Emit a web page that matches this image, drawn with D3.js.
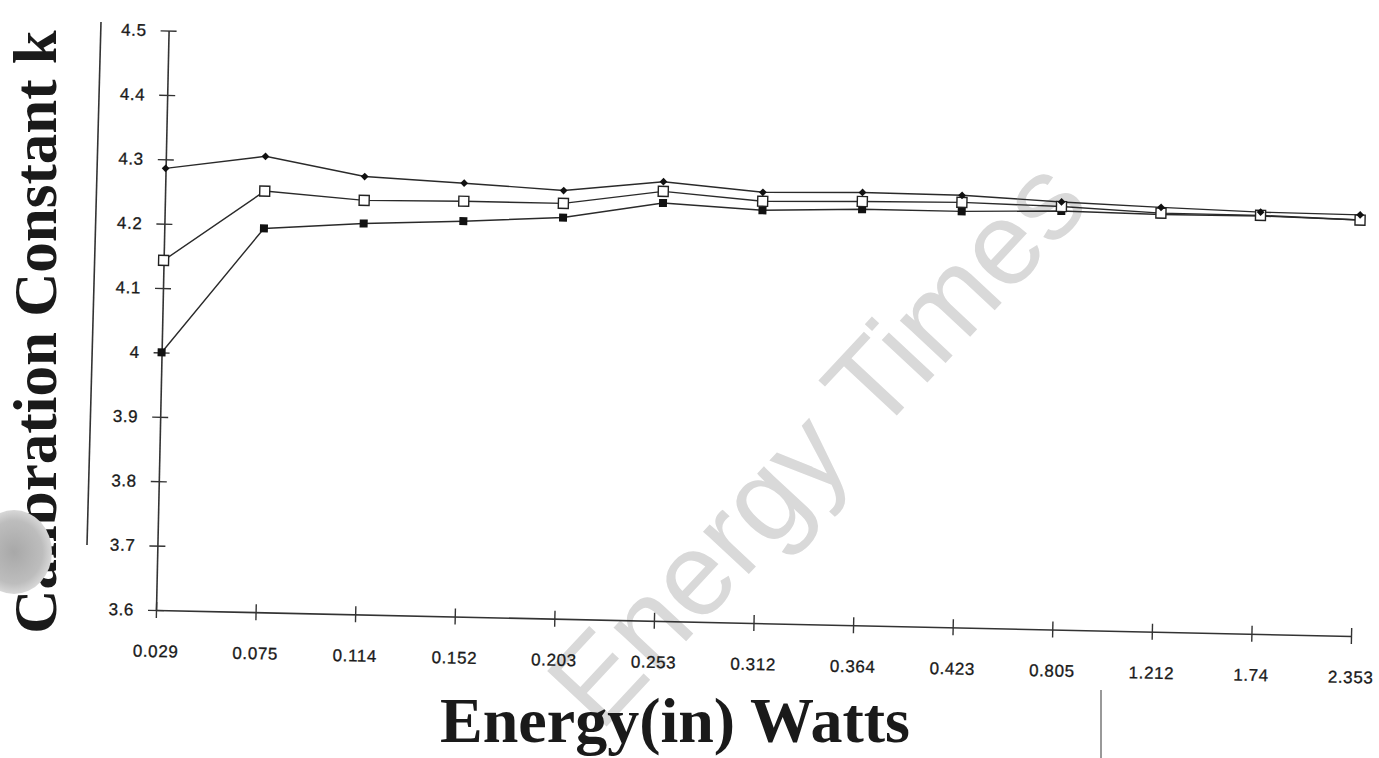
<!DOCTYPE html>
<html>
<head>
<meta charset="utf-8">
<script src="https://cdn.jsdelivr.net/npm/d3@7/dist/d3.min.js"></script>
<style>
  html, body { margin: 0; padding: 0; background: #ffffff; }
  svg { display: block; }
</style>
</head>
<body>
<script>
// ---- data ----
const categories = ["0.029","0.075","0.114","0.152","0.203","0.253","0.312","0.364","0.423","0.805","1.212","1.74","2.353"];
const seriesDiamond = [4.286, 4.308, 4.280, 4.273, 4.265, 4.282, 4.269, 4.272, 4.271, 4.264, 4.259, 4.255, 4.254];
const seriesOpenSquare = [4.143, 4.254, 4.243, 4.245, 4.245, 4.267, 4.255, 4.258, 4.260, 4.257, 4.250, 4.250, 4.246];
const seriesFilledSquare = [4.000, 4.196, 4.207, 4.214, 4.223, 4.249, 4.241, 4.246, 4.246, 4.250, 4.248, 4.249, 4.246];
const yTickValues = [3.6, 3.7, 3.8, 3.9, 4.0, 4.1, 4.2, 4.3, 4.4, 4.5];
const yTickLabels = ["3.6", "3.7", "3.8", "3.9", "4", "4.1", "4.2", "4.3", "4.4", "4.5"];
const xTitle = "Energy(in) Watts";
const yTitle = "Calibration Constant k";
const watermark = "Energy Times";

// ---- layout ----
const W = 1379, H = 758;
const origin = [156, 610];
const tilt = 1.246; // the scanned page is slightly rotated
const plotW = 1195.3, plotH = 579.6;

const svg = d3.select("body").append("svg")
  .attr("width", W).attr("height", H)
  .attr("viewBox", `0 0 ${W} ${H}`);

svg.append("rect").attr("width", W).attr("height", H).attr("fill", "#ffffff");

// watermark
svg.append("text")
  .attr("transform", "translate(1092,206) rotate(-47)")
  .attr("text-anchor", "end")
  .attr("font-family", "Liberation Sans, Arial, sans-serif")
  .attr("font-size", 118)
  .attr("fill", "#d9d9d9")
  .text(watermark);

const g = svg.append("g")
  .attr("transform", `translate(${origin[0]},${origin[1]}) rotate(${tilt})`);

const x = d3.scalePoint().domain(categories).range([0, plotW]).padding(0);
const y = d3.scaleLinear().domain([3.6, 4.5]).range([0, -plotH]);

// y axis
const yAxis = g.append("g")
  .call(d3.axisLeft(y).tickValues(yTickValues)
    .tickFormat((d, i) => yTickLabels[i])
    .tickSize(8).tickSizeOuter(0).tickPadding(14));
yAxis.selectAll(".tick line").attr("x2", 8).attr("x1", -8);
// x axis
const xAxis = g.append("g")
  .call(d3.axisBottom(x).tickSize(8).tickSizeOuter(0).tickPadding(27));
xAxis.selectAll(".tick line").attr("y1", -8);

[yAxis, xAxis].forEach(a => {
  a.select(".domain").attr("stroke", "#333").attr("stroke-width", 1.6);
  a.selectAll(".tick line").attr("stroke", "#333").attr("stroke-width", 1.4);
  a.selectAll(".tick text")
    .attr("font-family", "Liberation Sans, Arial, sans-serif")
    .attr("font-size", 17)
    .attr("letter-spacing", 0.6)
    .attr("fill", "#1a1a1a")
    .attr("stroke", "#1a1a1a")
    .attr("stroke-width", 0.3);
});

// series
const seriesList = [
  { values: seriesFilledSquare, symbol: d3.symbolSquare, size: 64, fill: "#111", stroke: "none", rot: 0 },
  { values: seriesOpenSquare, symbol: d3.symbolSquare, size: 100, fill: "#ffffff", stroke: "#222", rot: 0 },
  { values: seriesDiamond, symbol: d3.symbolSquare, size: 30, fill: "#111", stroke: "none", rot: 45 }
];

const line = d3.line().x((d, i) => x(categories[i])).y(d => y(d));

seriesList.forEach(s => {
  g.append("path")
    .datum(s.values)
    .attr("fill", "none")
    .attr("stroke", "#2a2a2a")
    .attr("stroke-width", 1.4)
    .attr("d", line);
});
seriesList.forEach(s => {
  g.selectAll(null)
    .data(s.values)
    .enter().append("path")
    .attr("transform", (d, i) => `translate(${x(categories[i])},${y(d)}) rotate(${s.rot})`)
    .attr("d", d3.symbol().type(s.symbol).size(s.size))
    .attr("fill", s.fill)
    .attr("stroke", s.stroke)
    .attr("stroke-width", 1.4);
});

// axis titles
svg.append("text")
  .attr("transform", "translate(56,332) rotate(-90)")
  .attr("text-anchor", "middle")
  .attr("font-family", "Liberation Serif, Times New Roman, serif")
  .attr("font-weight", "bold")
  .attr("font-size", 61)
  .attr("fill", "#1a1a1a")
  .text(yTitle);

svg.append("text")
  .attr("x", 675).attr("y", 742)
  .attr("text-anchor", "middle")
  .attr("font-family", "Liberation Serif, Times New Roman, serif")
  .attr("font-weight", "bold")
  .attr("font-size", 64)
  .attr("fill", "#1a1a1a")
  .text(xTitle);

// scan artefacts
svg.append("line").attr("x1", 101).attr("y1", 22).attr("x2", 87).attr("y2", 545)
  .attr("stroke", "#333").attr("stroke-width", 1.6);
svg.append("line").attr("x1", 1101).attr("y1", 690).attr("x2", 1101).attr("y2", 758)
  .attr("stroke", "#555").attr("stroke-width", 1.2);
const defs = svg.append("defs");
const rg = defs.append("radialGradient").attr("id", "blob");
rg.append("stop").attr("offset", "0%").attr("stop-color", "#a8a8a8");
rg.append("stop").attr("offset", "75%").attr("stop-color", "#bdbdbd");
rg.append("stop").attr("offset", "100%").attr("stop-color", "#d8d8d8");
svg.append("ellipse").attr("cx", 14).attr("cy", 552).attr("rx", 38).attr("ry", 42)
  .attr("fill", "url(#blob)");
</script>
</body>
</html>
